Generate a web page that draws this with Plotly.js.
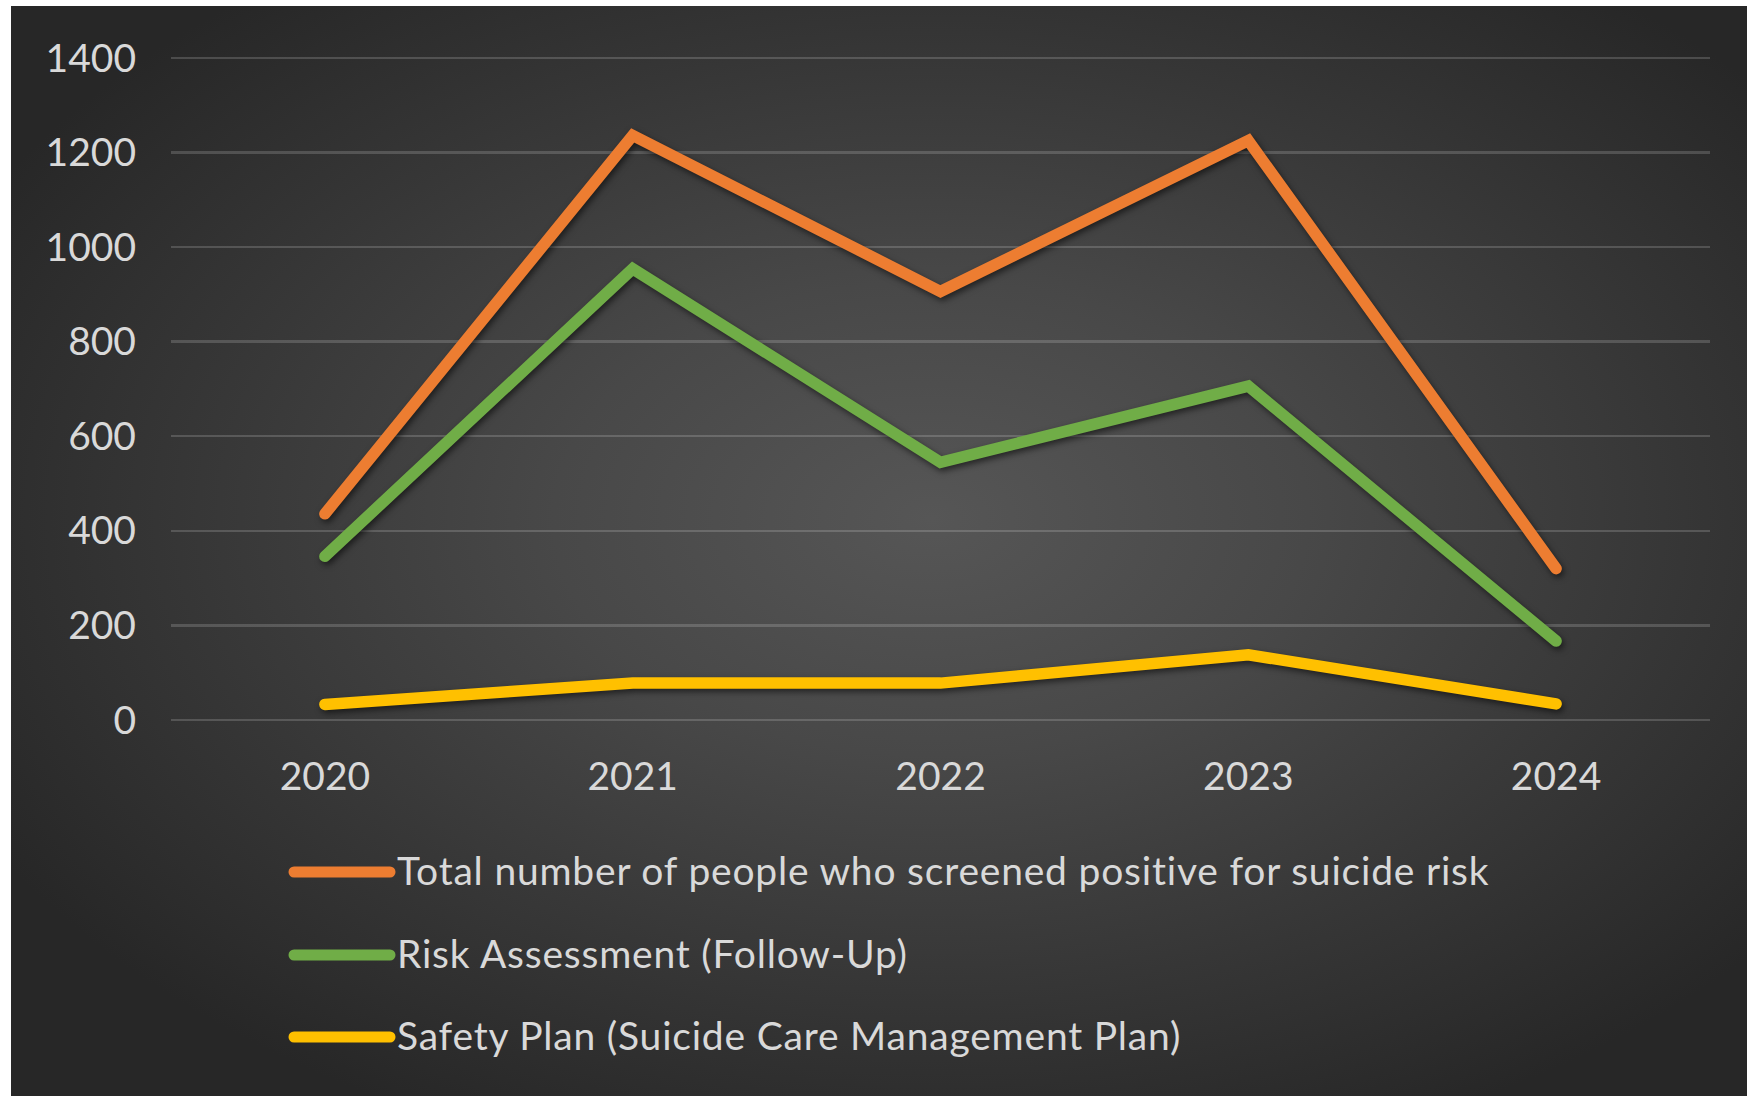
<!DOCTYPE html>
<html>
<head>
<meta charset="utf-8">
<script src="https://cdn.plot.ly/plotly-3.0.1.min.js"></script>
<style>
  html, body { margin: 0; padding: 0; background: #ffffff; width: 1747px; height: 1096px; overflow: hidden; }
  #bg {
    position: absolute; left: 11px; top: 6px; width: 1736px; height: 1090px;
    background: radial-gradient(ellipse 62% 62% at 53% 47%, #565656 0%, #484848 35%, #363636 70%, #272727 100%);
  }
  #chart { position: absolute; left: 0; top: 0; width: 1747px; height: 1096px; }
  .scatterlayer .js-line { stroke-linecap: round; stroke-linejoin: miter; }
  .scatterlayer .trace { filter: drop-shadow(2px 3px 3px rgba(0,0,0,0.55)); }
  .shapelayer path { stroke-linecap: round; }
  .annotation-text { letter-spacing: 0.8px; }
</style>
</head>
<body>
<div id="bg"></div>
<div id="chart"></div>
<script>
// ---- data ----
const years = ['2020', '2021', '2022', '2023', '2024'];
const totalScreened = [436, 1236, 906, 1225, 320];
const riskAssessment = [346, 954, 545, 706, 167];
const safetyPlan = [33, 78, 78, 138, 34];
const seriesNames = [
  'Total number of people who screened positive for suicide risk',
  'Risk Assessment (Follow-Up)',
  'Safety Plan (Suicide Care Management Plan)'
];
const seriesValues = [totalScreened, riskAssessment, safetyPlan];
const seriesColors = ['#ED7D31', '#70AD47', '#FFC000'];
const yTickVals = [0, 200, 400, 600, 800, 1000, 1200, 1400];

// ---- layout geometry (pixels) ----
const W = 1747, H = 1096;
const yMax = 1404;
const plotL = 171, plotR = 1710, plotB = 720;
const pxPerUnit = (720 - 58) / 1400;
const plotT = Math.round(plotB - yMax * pxPerUnit);
const pw = plotR - plotL, ph = plotB - plotT;
const px = x => (x - plotL) / pw;
const py = y => (plotB - y) / ph;

const fontFam = 'Lato, "Open Sans", sans-serif';
const textColor = '#d9d9d9';

const traces = seriesValues.map((vals, i) => ({
  type: 'scatter',
  mode: 'lines',
  x: years,
  y: vals,
  name: seriesNames[i],
  line: { color: seriesColors[i], width: 11.5 },
  hoverinfo: 'x+y+name'
}));

// custom legend (Excel style: long line sample + text)
const legendRowsY = [870, 953, 1035];
const shapes = [];
const annotations = [];
seriesNames.forEach((name, i) => {
  shapes.push({
    type: 'line', xref: 'paper', yref: 'paper',
    x0: px(294), x1: px(390), y0: py(legendRowsY[i] + 2), y1: py(legendRowsY[i] + 2),
    line: { color: seriesColors[i], width: 11 }
  });
  annotations.push({
    xref: 'paper', yref: 'paper', x: px(395), y: py(legendRowsY[i]),
    xanchor: 'left', yanchor: 'middle', showarrow: false,
    text: name, font: { family: fontFam, size: 39, color: textColor }
  });
});

const layout = {
  width: W, height: H,
  paper_bgcolor: 'rgba(0,0,0,0)',
  plot_bgcolor: 'rgba(0,0,0,0)',
  margin: { l: plotL, r: W - plotR, t: plotT, b: H - plotB, pad: 0 },
  showlegend: false,
  font: { family: fontFam, color: textColor },
  xaxis: {
    type: 'category',
    range: [-0.5, years.length - 0.5],
    showgrid: false, zeroline: false, showline: false,
    ticks: '',
    tickfont: { family: fontFam, size: 39, color: textColor },
    ticklabelstandoff: 30
  },
  yaxis: {
    range: [0, yMax],
    tickvals: yTickVals,
    ticktext: yTickVals.map(String),
    showgrid: true, gridcolor: 'rgba(255,255,255,0.17)', gridwidth: 2.5,
    zeroline: true, zerolinecolor: 'rgba(255,255,255,0.17)', zerolinewidth: 2.5,
    showline: false, ticks: '',
    tickfont: { family: fontFam, size: 39, color: textColor },
    ticklabelstandoff: 34
  },
  shapes: shapes,
  annotations: annotations
};

Plotly.newPlot('chart', traces, layout, { displayModeBar: false, staticPlot: true });
</script>
</body>
</html>
